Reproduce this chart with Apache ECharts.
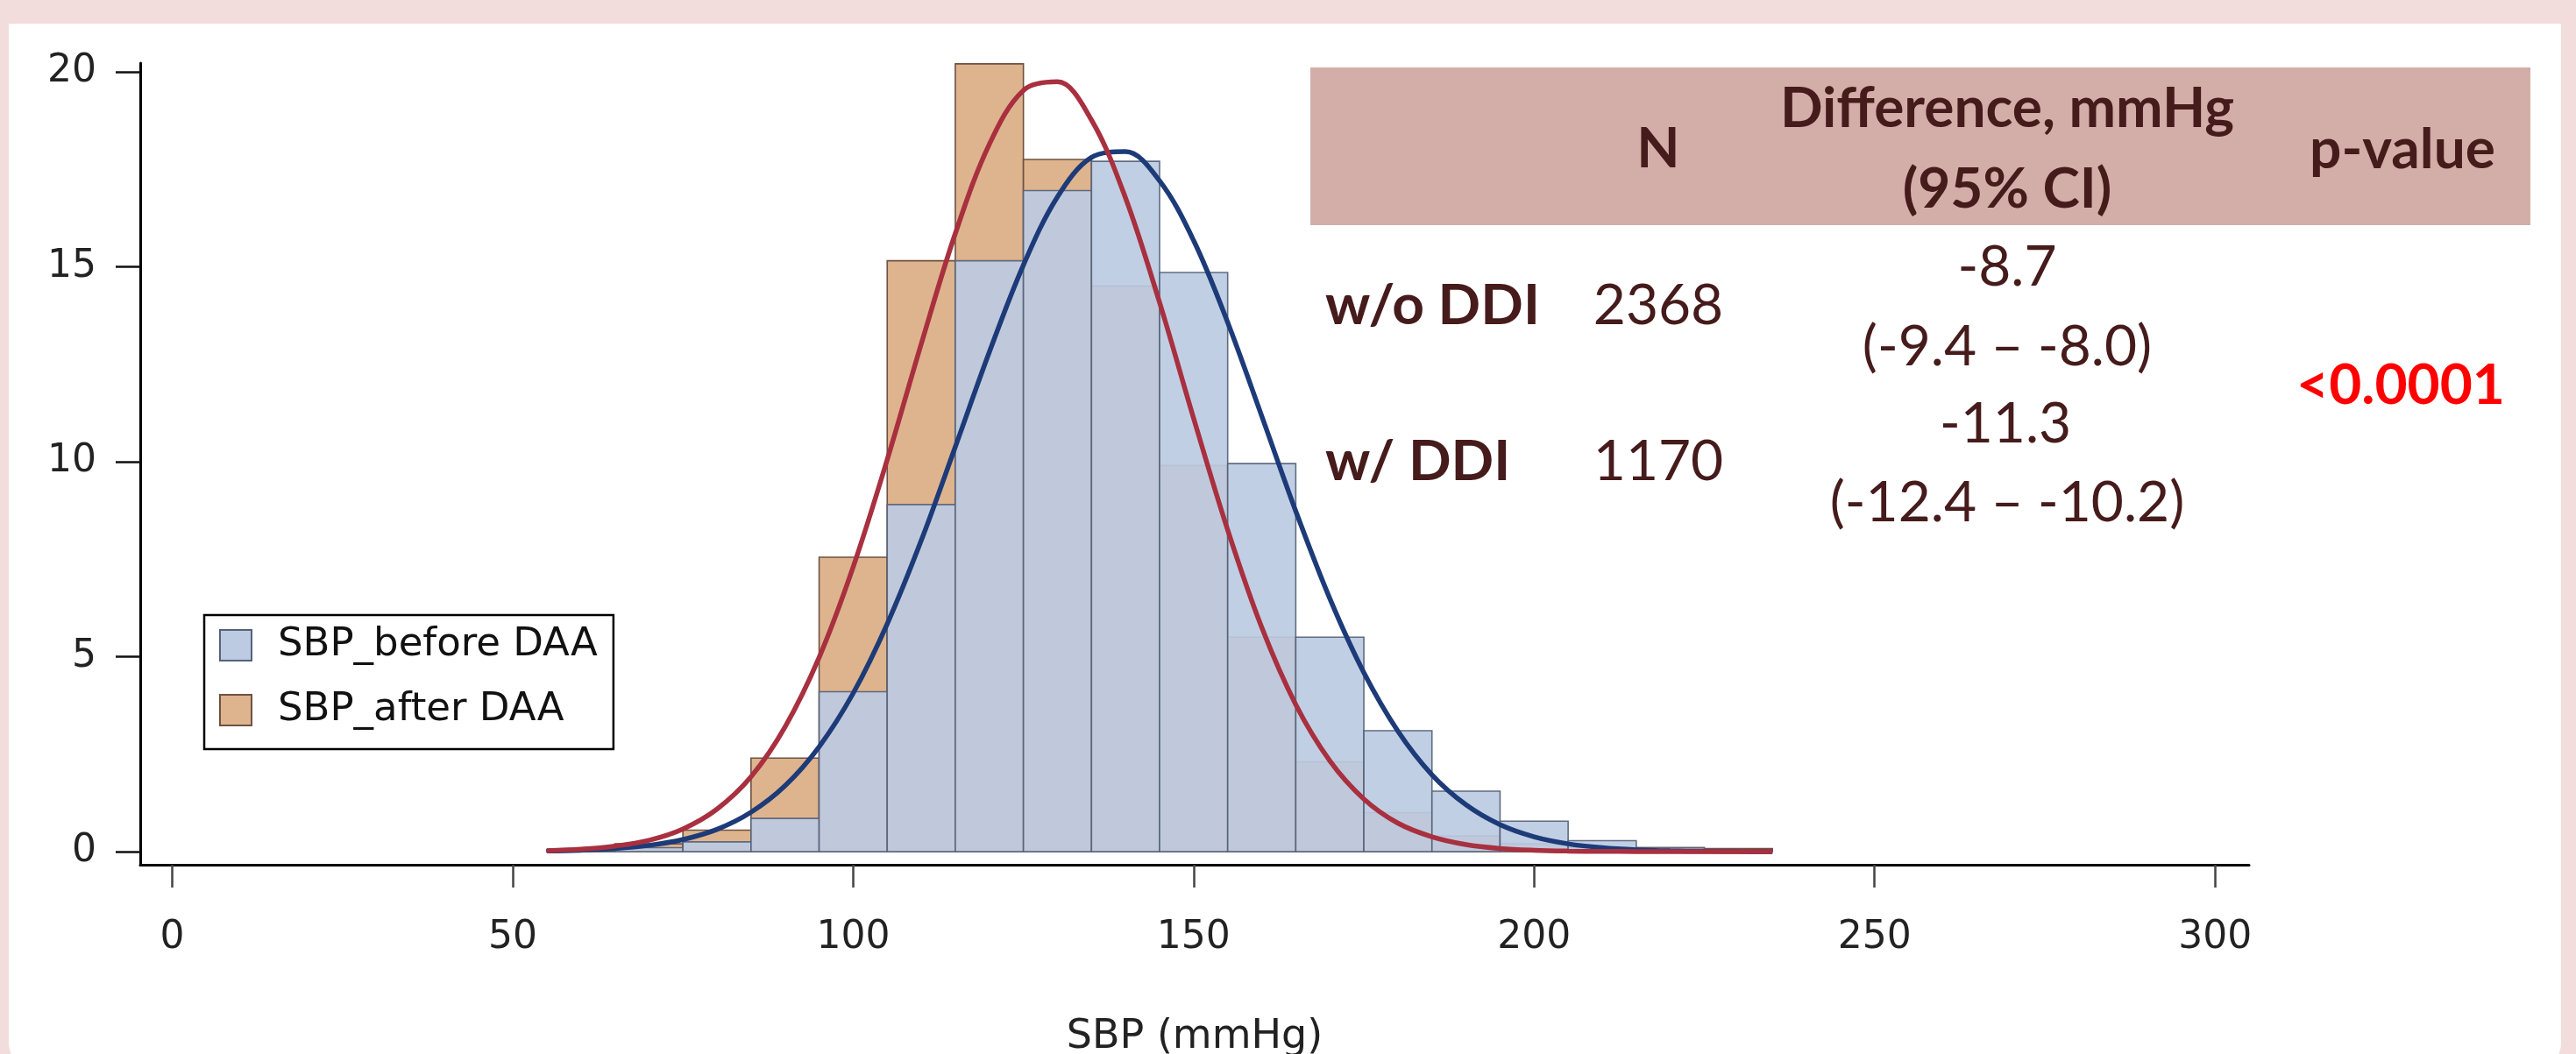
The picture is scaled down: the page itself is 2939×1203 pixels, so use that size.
<!DOCTYPE html>
<html>
<head>
<meta charset="utf-8">
<script src="https://cdn.jsdelivr.net/npm/echarts@6/dist/echarts.min.js"></script>
<style>
  html, body { margin:0; padding:0; background:#f2dcdc; }
  #panel { position:absolute; left:10px; top:27px; width:2912px; height:1190px; background:#ffffff; border-radius:0 0 26px 26px; }
  #chart { position:absolute; left:0; top:0; width:2939px; height:1203px; }
</style>
</head>
<body>
<div id="panel"></div>
<div id="chart"></div>
<script>
// ---- data ----
const binStart = [55, 65, 75, 85, 95, 105, 115, 125, 135, 145, 155, 165, 175, 185, 195, 205, 215, 225];
const binWidth = 10;
const beforePct = [0.03, 0.1, 0.25, 0.85, 4.1, 8.9, 15.15, 16.95, 17.7, 14.85, 9.95, 5.5, 3.1, 1.55, 0.78, 0.28, 0.1, 0.04];
const afterPct  = [0.05, 0.2, 0.55, 2.4, 7.55, 15.15, 20.2, 17.75, 14.5, 9.9, 5.5, 2.3, 1.0, 0.4, 0.2, 0.1, 0.1, 0.08];

const curveX = [55, 60, 65, 70, 75, 80, 85, 90, 95, 100, 105, 110, 115, 120, 125, 130, 135, 140, 145, 150,
                155, 160, 165, 170, 175, 180, 185, 190, 195, 200, 205, 210, 215, 220, 225, 230, 235];
const beforeCurve = [0.016, 0.036, 0.077, 0.16, 0.31, 0.57, 1.01, 1.69, 2.69, 4.06, 5.84, 7.98, 10.38, 12.81, 15.04, 16.79,
                     17.8, 17.95, 17.2, 15.67, 13.57, 11.17, 8.73, 6.49, 4.59, 3.09, 1.97, 1.2, 0.69, 0.38, 0.2, 0.1,
                     0.046, 0.02, 0.009, 0.003, 0.001];
const afterCurve = [0.025, 0.06, 0.14, 0.29, 0.58, 1.09, 1.92, 3.2, 4.98, 7.3, 10.05, 13.02, 15.85, 18.14, 19.52, 19.74,
                    18.76, 16.76, 14.08, 11.11, 8.25, 5.75, 3.77, 2.33, 1.35, 0.73, 0.38, 0.18, 0.08, 0.035, 0.014, 0.005,
                    0.002, 0.001, 0, 0, 0];

const xTicks = [0, 50, 100, 150, 200, 250, 300];
const yTicks = [0, 5, 10, 15, 20];

const seriesNames = ['SBP_before DAA', 'SBP_after DAA'];
const axisTitle = 'SBP (mmHg)';

const tableHeader = ['N', 'Difference, mmHg', '(95% CI)', 'p-value'];
const groups = ['w/o DDI', 'w/ DDI'];
const groupN = ['2368', '1170'];
const diffEst = ['-8.7', '-11.3'];
const diffCI = ['(-9.4 \u2013 -8.0)', '(-12.4 \u2013 -10.2)'];
const pValue = '<0.0001';

// ---- styles ----
const blueFill = '#bccbe2', blueEdge = '#56627a';
const orangeFill = '#deb48e', orangeEdge = '#6e5142';
const redLine = '#a8303f', navyLine = '#1d3b78';
const axisFont = "'DejaVu Sans', Verdana, sans-serif";
const tableFont = "Lato, 'Open Sans', sans-serif";
const maroon = '#461b1b';

function histItem(fill, edge, opacity) {
  return function (params, api) {
    const p0 = api.coord([api.value(0), api.value(2)]);
    const p1 = api.coord([api.value(1), 0]);
    return {
      type: 'rect',
      shape: { x: p0[0], y: p0[1], width: p1[0] - p0[0], height: p1[1] - p0[1] },
      style: { fill: fill, stroke: edge, lineWidth: 1.6, opacity: opacity }
    };
  };
}

const chart = echarts.init(document.getElementById('chart'), null, { renderer: 'canvas' });

function txt(x, y, text, weight, align, color) {
  return { type: 'text', x: x, y: y, style: { text: text, font: weight + ' 64px ' + tableFont, fill: color || maroon, align: align, verticalAlign: 'middle' } };
}

const graphics = [
  { type: 'rect', shape: { x: 1495, y: 77, width: 1392, height: 180 }, style: { fill: '#d3aea8' }, z: 0 },
  txt(1892, 170, tableHeader[0], 'bold', 'center'),
  txt(2290, 124, tableHeader[1], 'bold', 'center'),
  txt(2290, 216, tableHeader[2], 'bold', 'center'),
  txt(2741, 171, tableHeader[3], 'bold', 'center'),
  txt(1512, 349, groups[0], 'bold', 'left'),
  txt(1512, 527, groups[1], 'bold', 'left'),
  txt(1892, 349, groupN[0], 'normal', 'center'),
  txt(1892, 527, groupN[1], 'normal', 'center'),
  txt(2290, 305, diffEst[0], 'normal', 'center'),
  txt(2290, 396, diffCI[0], 'normal', 'center'),
  txt(2288, 484, diffEst[1], 'normal', 'center'),
  txt(2290, 574, diffCI[1], 'normal', 'center'),
  txt(2739, 440, pValue, 'bold', 'center', '#ff0000')
];

const option = {
  animation: false,
  backgroundColor: 'transparent',
  grid: { left: 160, right: 373, top: 72, bottom: 216, containLabel: false, outerBoundsMode: 'none' },
  xAxis: {
    type: 'value', min: -4.7, max: 305,
    name: axisTitle, nameLocation: 'middle', nameGap: 174,
    nameTextStyle: { fontFamily: axisFont, fontSize: 46, color: '#222' },
    axisLine: { show: true, onZero: false, lineStyle: { color: '#000', width: 3 } },
    axisTick: { show: true, inside: false, length: 26, customValues: xTicks, lineStyle: { color: '#444', width: 2.5 } },
    axisLabel: { show: true, customValues: xTicks, margin: 62, fontFamily: axisFont, fontSize: 44, color: '#222' },
    splitLine: { show: false }
  },
  yAxis: {
    type: 'value', min: -0.337, max: 20.22,
    axisLine: { show: true, onZero: false, lineStyle: { color: '#000', width: 3 } },
    axisTick: { show: true, inside: false, length: 28, customValues: yTicks, lineStyle: { color: '#111', width: 2.5 } },
    axisLabel: { show: true, customValues: yTicks, margin: 50, fontFamily: axisFont, fontSize: 44, color: '#222' },
    splitLine: { show: false }
  },
  legend: {
    orient: 'vertical', left: 233, top: 702,
    padding: [12, 18, 22, 17], itemGap: 29, itemWidth: 36, itemHeight: 35,
    backgroundColor: '#ffffff', borderColor: '#000', borderWidth: 2.5, borderRadius: 0,
    selectedMode: false,
    textStyle: { fontFamily: axisFont, fontSize: 45, color: '#111', padding: [0, 0, 0, 25] },
    data: [
      { name: seriesNames[0], icon: 'rect', itemStyle: { color: blueFill, borderColor: blueEdge, borderWidth: 2 } },
      { name: seriesNames[1], icon: 'rect', itemStyle: { color: orangeFill, borderColor: orangeEdge, borderWidth: 2 } }
    ]
  },
  graphic: graphics,
  series: [
    {
      name: seriesNames[1], type: 'custom', z: 2,
      itemStyle: { color: orangeFill, borderColor: orangeEdge },
      encode: { x: [0, 1], y: 2 },
      data: binStart.map((s, i) => [s, s + binWidth, afterPct[i]]),
      renderItem: histItem(orangeFill, orangeEdge, 1)
    },
    {
      name: seriesNames[0], type: 'custom', z: 3,
      itemStyle: { color: blueFill, borderColor: blueEdge },
      encode: { x: [0, 1], y: 2 },
      data: binStart.map((s, i) => [s, s + binWidth, beforePct[i]]),
      renderItem: histItem(blueFill, blueEdge, 0.92)
    },
    {
      name: 'Normal before', type: 'line', z: 4, smooth: 0.35, showSymbol: false, silent: true,
      lineStyle: { color: navyLine, width: 5.5 },
      data: curveX.map((x, i) => [x, beforeCurve[i]])
    },
    {
      name: 'Normal after', type: 'line', z: 5, smooth: 0.35, showSymbol: false, silent: true,
      lineStyle: { color: redLine, width: 5.5 },
      data: curveX.map((x, i) => [x, afterCurve[i]])
    }
  ]
};
chart.setOption(option);
</script>
</body>
</html>
